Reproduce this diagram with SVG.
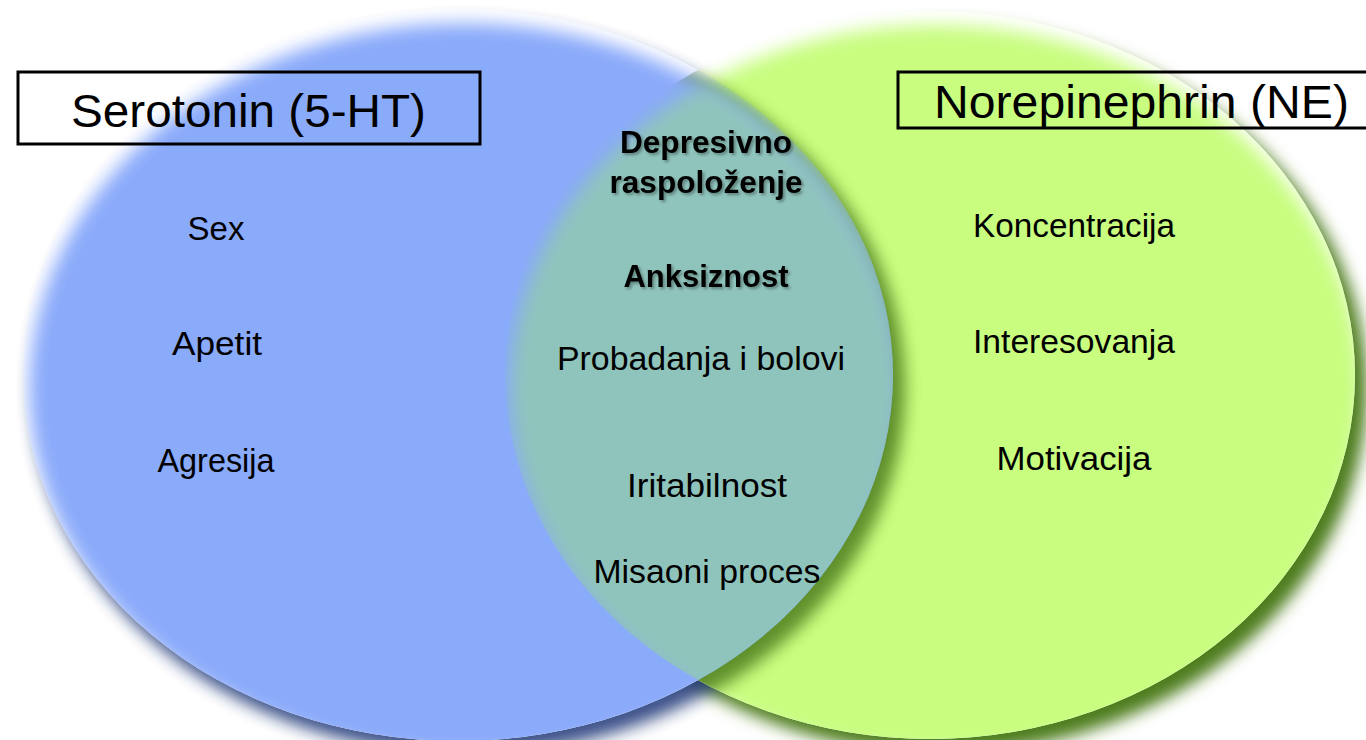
<svg xmlns="http://www.w3.org/2000/svg" width="1366" height="740" viewBox="0 0 1366 740">
  <style>
    .t { font-family: "Liberation Sans", Arial, sans-serif; font-size: 33px; fill: #000; text-anchor: middle; }
    .b { font-weight: bold; font-size: 32px; }
    .title { font-family: "Liberation Sans", Arial, sans-serif; font-size: 46px; fill: #000; }
    .box { fill: none; stroke: #000; stroke-width: 3; }
  </style>
  <defs>
    <filter id="shadowBlur" x="-10%" y="-10%" width="120%" height="120%">
      <feGaussianBlur stdDeviation="8"/>
    </filter>
    <filter id="featherBlur" x="-10%" y="-10%" width="120%" height="120%">
      <feGaussianBlur stdDeviation="9"/>
    </filter>
    <filter id="txtShadow" x="-10%" y="-20%" width="120%" height="150%">
      <feDropShadow dx="2" dy="2" stdDeviation="1.5" flood-color="#000" flood-opacity="0.35"/>
    </filter>
    <clipPath id="clipBlue">
      <ellipse cx="458" cy="375" rx="435" ry="366"/>
    </clipPath>
    <clipPath id="clipGreen">
      <ellipse cx="930" cy="375" rx="425" ry="364"/>
    </clipPath>
    <mask id="mBlue" maskUnits="userSpaceOnUse" x="0" y="0" width="1366" height="740">
      <ellipse cx="464" cy="389" rx="435" ry="366" fill="#fff" filter="url(#featherBlur)"/>
    </mask>
    <mask id="mGreen" maskUnits="userSpaceOnUse" x="0" y="0" width="1366" height="740">
      <ellipse cx="936" cy="389" rx="425" ry="364" fill="#fff" filter="url(#featherBlur)"/>
    </mask>
  </defs>

  <rect width="1366" height="740" fill="#fff"/>

  <g id="shadows">
    <ellipse cx="942" cy="389" rx="425" ry="364" fill="#4e7d1f" filter="url(#shadowBlur)"/>
    <ellipse cx="467" cy="388" rx="435" ry="366" fill="#1e3576" opacity="0.85" filter="url(#shadowBlur)"/>
    <ellipse cx="930" cy="375" rx="425" ry="364" fill="#fff"/>
    <ellipse cx="458" cy="375" rx="435" ry="366" fill="#fff"/>
  </g>

  <g id="norepinephrin">
    <ellipse cx="930" cy="375" rx="425" ry="364" fill="#c8fd80" mask="url(#mGreen)"/>
    <g clip-path="url(#clipGreen)">
      <ellipse cx="470" cy="388" rx="435" ry="366" fill="#4e7d1f" opacity="0.85" filter="url(#shadowBlur)"/>
    </g>
  </g>

  <g id="serotonin">
    <ellipse cx="458" cy="375" rx="435" ry="366" fill="#8aaafa" mask="url(#mBlue)"/>
  </g>

  <g id="overlap" mask="url(#mBlue)">
    <g clip-path="url(#clipBlue)">
      <ellipse cx="930" cy="375" rx="425" ry="364" fill="#8fc4bc" mask="url(#mGreen)"/>
    </g>
  </g>

  <g id="serotonin-labels">
    <rect class="box" x="18" y="72" width="462" height="72"/>
    <text class="title" x="71" y="127" textLength="355" lengthAdjust="spacingAndGlyphs">Serotonin (5-HT)</text>
    <text class="t" x="216" y="240">Sex</text>
    <text class="t" x="217" y="355" textLength="90" lengthAdjust="spacingAndGlyphs">Apetit</text>
    <text class="t" x="216" y="472" textLength="117" lengthAdjust="spacingAndGlyphs">Agresija</text>
  </g>

  <g id="norepinephrin-labels">
    <rect class="box" x="898" y="72" width="480" height="56"/>
    <text class="title" x="934" y="118" textLength="415" lengthAdjust="spacingAndGlyphs">Norepinephrin (NE)</text>
    <text class="t" x="1074" y="237" textLength="202" lengthAdjust="spacingAndGlyphs">Koncentracija</text>
    <text class="t" x="1074" y="353" textLength="202" lengthAdjust="spacingAndGlyphs">Interesovanja</text>
    <text class="t" x="1074" y="470" textLength="155" lengthAdjust="spacingAndGlyphs">Motivacija</text>
  </g>

  <g id="overlap-labels">
    <g filter="url(#txtShadow)">
      <text class="t b" x="706" y="153" textLength="172" lengthAdjust="spacingAndGlyphs">Depresivno</text>
      <text class="t b" x="706" y="193" textLength="193" lengthAdjust="spacingAndGlyphs">raspoloženje</text>
      <text class="t b" x="706" y="287" textLength="165" lengthAdjust="spacingAndGlyphs">Anksiznost</text>
    </g>
    <text class="t" x="701" y="370" textLength="288" lengthAdjust="spacingAndGlyphs">Probadanja i bolovi</text>
    <text class="t" x="707" y="497" textLength="160" lengthAdjust="spacingAndGlyphs">Iritabilnost</text>
    <text class="t" x="707" y="583" textLength="227" lengthAdjust="spacingAndGlyphs">Misaoni proces</text>
  </g>
</svg>
